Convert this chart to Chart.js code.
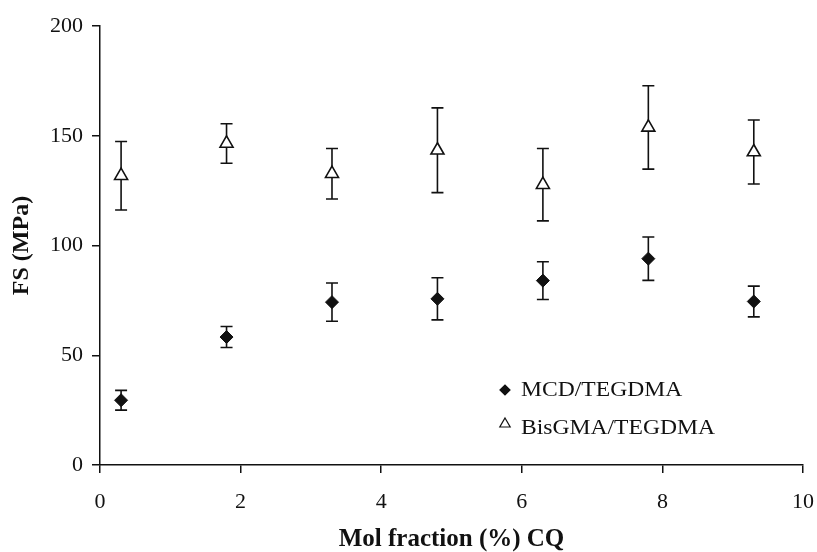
<!DOCTYPE html>
<html>
<head>
<meta charset="utf-8">
<script src="https://cdn.jsdelivr.net/npm/chart.js@4/dist/chart.umd.min.js"></script>
<style>
  html, body { margin: 0; padding: 0; background: #fff; }
  #wrap { width: 817px; height: 552px; }
</style>
</head>
<body>
<div id="wrap"><canvas id="fsChart" width="817" height="552"></canvas></div>
<script>
// ── Data ──────────────────────────────────────────────────
const molFrac   = [0.3, 1.8, 3.3, 4.8, 6.3, 7.8, 9.3];
const mcdFS     = [29.5, 58.3, 74.2, 75.7, 84.0, 94.0, 74.5];
const mcdErr    = [4.5, 4.8, 8.7, 9.6, 8.6, 9.9, 7.0];
const bisFS     = [131.8, 146.5, 132.7, 143.4, 127.7, 153.8, 142.6];
const bisErr    = [15.6, 9.0, 11.5, 19.3, 16.5, 19.0, 14.6];
const seriesNames = ['MCD/TEGDMA', 'BisGMA/TEGDMA'];
const xTitle = 'Mol fraction (%) CQ';
const yTitle = 'FS (MPa)';

const FONT = "'Liberation Serif', 'Times New Roman', serif";
const INK  = '#111';

// ── Error bars (drawn through the scales) ─────────────────
const errorBars = {
  id: 'errorBars',
  beforeDatasetsDraw(chart) {
    const { ctx, scales: { x, y } } = chart;
    ctx.save();
    ctx.strokeStyle = INK;
    ctx.lineWidth = 1.6;
    chart.data.datasets.forEach(ds => {
      ds.data.forEach((p, i) => {
        const e = ds.errors[i];
        const px = x.getPixelForValue(p.x);
        const yt = y.getPixelForValue(p.y + e);
        const yb = y.getPixelForValue(p.y - e);
        ctx.beginPath();
        ctx.moveTo(px, yt); ctx.lineTo(px, yb);
        ctx.moveTo(px - 6, yt); ctx.lineTo(px + 6, yt);
        ctx.moveTo(px - 6, yb); ctx.lineTo(px + 6, yb);
        ctx.stroke();
      });
    });
    ctx.restore();
  }
};

// ── Legend inside the plot ────────────────────────────────
const innerLegend = {
  id: 'innerLegend',
  afterDraw(chart) {
    const { ctx } = chart;
    const rows = [
      { style: 'rectRot',  r: 5, fill: INK,    y: 390, base: 396 },
      { style: 'triangle', r: 6, fill: '#fff', y: 424, base: 434 }
    ];
    ctx.save();
    rows.forEach((row, i) => {
      ctx.fillStyle = row.fill;
      ctx.strokeStyle = INK;
      ctx.lineWidth = 1.2;
      Chart.helpers.drawPoint(ctx, { pointStyle: row.style, radius: row.r, rotation: 0, borderWidth: 1.2 }, 505, row.y);
      // reference text is slightly stretched horizontally
      ctx.save();
      ctx.translate(521, row.base);
      ctx.scale(1.18, 1);
      ctx.fillStyle = INK;
      ctx.font = '20px ' + FONT;
      ctx.textBaseline = 'alphabetic';
      ctx.fillText(seriesNames[i], 0, 0);
      ctx.restore();
    });
    ctx.restore();
  }
};

const axisCommon = {
  grid: { display: true, drawOnChartArea: false, drawTicks: true, tickLength: 8, color: INK, lineWidth: 1.5 },
  border: { display: true, color: INK, width: 1.5 },
  ticks: { color: INK, font: { family: FONT, size: 22 } }
};

new Chart(document.getElementById('fsChart'), {
  type: 'scatter',
  data: {
    datasets: [
      {
        label: seriesNames[0],
        data: molFrac.map((v, i) => ({ x: v, y: mcdFS[i] })),
        errors: mcdErr,
        pointStyle: 'rectRot',
        pointRadius: 6.5,
        backgroundColor: INK,
        borderColor: INK,
        borderWidth: 1
      },
      {
        label: seriesNames[1],
        data: molFrac.map((v, i) => ({ x: v, y: bisFS[i] })),
        errors: bisErr,
        pointStyle: 'triangle',
        pointRadius: 7.5,
        backgroundColor: '#fff',
        borderColor: INK,
        borderWidth: 1.6
      }
    ]
  },
  options: {
    responsive: false,
    animation: false,
    layout: { padding: { left: 0, right: 14, top: 26, bottom: 0 } },
    plugins: { legend: { display: false }, tooltip: { enabled: false } },
    scales: {
      x: {
        ...axisCommon,
        type: 'linear', min: 0, max: 10,
        ticks: { ...axisCommon.ticks, stepSize: 2, padding: 16 },
        title: { display: true, text: xTitle, color: INK, font: { family: FONT, size: 25, weight: 'bold', lineHeight: 1 }, padding: { top: 0, bottom: 0 } },
        afterFit: s => { s.height = 87; s.paddingRight = 0; s.paddingLeft = 0; }
      },
      y: {
        ...axisCommon,
        min: 0, max: 200,
        ticks: { ...axisCommon.ticks, stepSize: 50, padding: 9 },
        title: { display: true, text: yTitle, color: INK, font: { family: FONT, size: 24, weight: 'bold' }, padding: { top: 7, bottom: 0 } },
        afterFit: s => { s.width = 100; s.paddingTop = 0; s.paddingBottom = 0; }
      }
    }
  },
  plugins: [errorBars, innerLegend]
});
</script>
</body>
</html>
